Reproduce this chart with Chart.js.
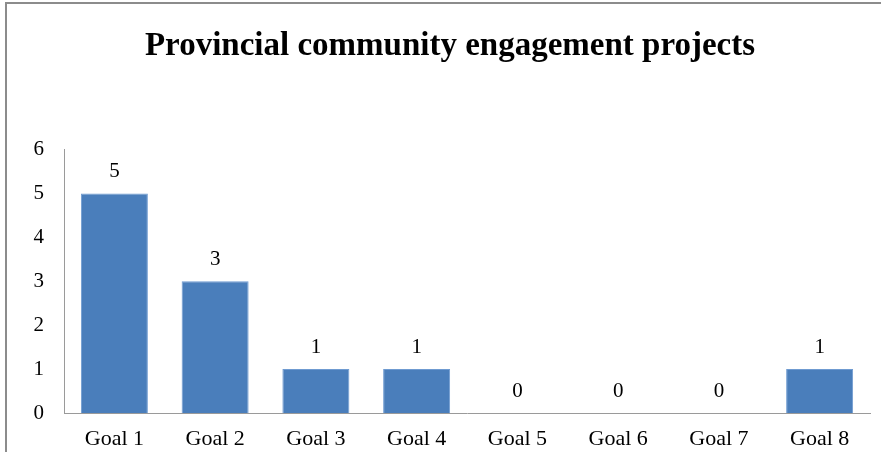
<!DOCTYPE html>
<html>
<head>
<meta charset="utf-8">
<script src="https://cdn.jsdelivr.net/npm/chart.js@4.4.0/dist/chart.umd.min.js"></script>
<style>
  html, body { margin: 0; padding: 0; background: #fff; }
  #wrap { position: relative; width: 881px; height: 452px; overflow: hidden; }
  #frame { position: absolute; left: 5px; top: 2px; width: 900px; height: 500px;
           border-left: 2px solid #8c8c8c; border-top: 2px solid #8c8c8c; }
  canvas { position: absolute; left: 0; top: 0; }
</style>
</head>
<body>
<div id="wrap">
  <div id="frame"></div>
  <canvas id="myChart" width="881" height="452"></canvas>
</div>
<script>
// categorias e valores
var goals = ['Goal 1', 'Goal 2', 'Goal 3', 'Goal 4', 'Goal 5', 'Goal 6', 'Goal 7', 'Goal 8'];
var projects = [5, 3, 1, 1, 0, 0, 0, 1];
var yTicks = [0, 1, 2, 3, 4, 5, 6];

var serif = '"Liberation Serif", "Times New Roman", serif';

// escreve o valor acima de cada barra
var valueLabels = {
    id: 'valueLabels',
    afterDatasetsDraw: function(chart) {
        var ctx = chart.ctx;
        var meta = chart.getDatasetMeta(0);
        ctx.save();
        ctx.font = '21px ' + serif;
        ctx.fillStyle = '#000';
        ctx.textAlign = 'center';
        ctx.textBaseline = 'middle';
        meta.data.forEach(function(bar, i) {
            ctx.fillText(String(projects[i]), bar.x, bar.y - 22);
        });
        ctx.restore();
    }
};

var data = {
    labels: goals,
    datasets: [{
        label: 'Projects',
        backgroundColor: '#4a7ebb',
        borderColor: '#6f9bd1',
        borderWidth: 1,
        barPercentage: 0.665,
        categoryPercentage: 1,
        data: projects
    }]
};

var options = {
    responsive: false,
    animation: false,
    layout: { padding: { left: 30, right: 11, top: 0, bottom: 0 } },
    plugins: {
        legend: { display: false },
        tooltip: { enabled: false },
        title: {
            display: true,
            text: 'Provincial community engagement projects',
            color: '#000',
            font: { family: serif, size: 33, weight: 'bold' },
            padding: { top: 27, bottom: 83 }
        }
    },
    scales: {
        x: {
            grid: { display: false, drawTicks: false },
            border: { display: true, color: '#9a9a9a', width: 1 },
            ticks: { color: '#000', font: { family: serif, size: 22 }, padding: 13, maxRotation: 0 },
            afterFit: function(scale) { scale.height = 39; }
        },
        y: {
            min: 0,
            max: 6,
            grid: { display: false, drawTicks: false },
            border: { display: true, color: '#9a9a9a', width: 1 },
            afterBuildTicks: function(scale) {
                scale.ticks = yTicks.map(function(v) { return { value: v }; });
            },
            ticks: { color: '#000', font: { family: serif, size: 21 }, padding: 20 },
            afterFit: function(scale) { scale.width = 34; }
        }
    }
};

var ctx = document.getElementById('myChart').getContext('2d');
var myChart = new Chart(ctx, {
    type: 'bar',
    data: data,
    options: options,
    plugins: [valueLabels]
});
</script>
</body>
</html>
